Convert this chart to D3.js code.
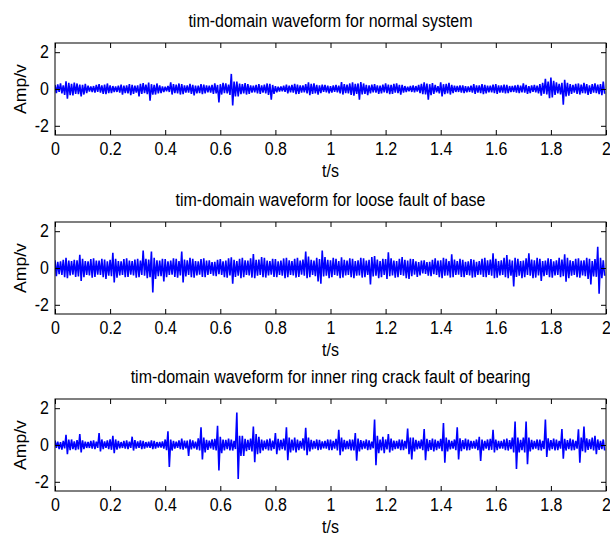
<!DOCTYPE html>
<html><head><meta charset="utf-8">
<script src="https://cdn.jsdelivr.net/npm/d3@7"></script>
<style>body{margin:0;background:#fff} text{font-family:"Liberation Sans",Arial,sans-serif;fill:#000}</style>
</head><body><svg id="c" width="610" height="536"></svg>
<script>
const titles = ["tim-domain waveform for normal system",
  "tim-domain waveform for loose fault of base",
  "tim-domain waveform for inner ring crack fault of bearing"];
const xTicks = [0,0.2,0.4,0.6,0.8,1,1.2,1.4,1.6,1.8,2];
const xTickLabels = ["0","0.2","0.4","0.6","0.8","1","1.2","1.4","1.6","1.8","2"];
const yTicks = [-2,0,2];
const yTickLabels = ["-2","0","2"];
const binStep = 0.01; // seconds per envelope bin (max then min inside each bin)

// normal system: per-bin max / min (V)
const normalMax = [0.22,0.25,0.30,0.20,0.42,0.34,0.28,0.35,0.30,0.24,0.22,0.28,0.18,0.14,0.16,0.22,0.26,0.20,0.24,0.30,
  0.20,0.16,0.14,0.18,0.24,0.18,0.20,0.26,0.22,0.18,0.20,0.28,0.32,0.24,0.35,0.26,0.22,0.30,0.20,0.14,
  0.12,0.16,0.36,0.26,0.24,0.30,0.26,0.20,0.20,0.28,0.22,0.18,0.18,0.26,0.24,0.20,0.18,0.22,0.30,0.22,
  0.26,0.34,0.30,0.24,0.82,0.40,0.40,0.30,0.26,0.32,0.26,0.20,0.18,0.22,0.26,0.20,0.24,0.30,0.28,0.22,
  0.16,0.12,0.14,0.18,0.24,0.18,0.22,0.28,0.24,0.20,0.20,0.26,0.36,0.28,0.30,0.22,0.20,0.24,0.22,0.18,
  0.16,0.20,0.22,0.18,0.38,0.26,0.24,0.30,0.36,0.28,0.30,0.38,0.30,0.22,0.20,0.24,0.26,0.20,0.18,0.24,
  0.30,0.24,0.22,0.28,0.30,0.22,0.22,0.16,0.12,0.16,0.20,0.16,0.22,0.28,0.36,0.30,0.26,0.32,0.22,0.16,
  0.36,0.26,0.28,0.34,0.22,0.18,0.16,0.20,0.20,0.16,0.14,0.18,0.26,0.20,0.20,0.26,0.22,0.18,0.18,0.24,
  0.26,0.20,0.20,0.24,0.22,0.16,0.16,0.20,0.22,0.18,0.30,0.22,0.16,0.20,0.22,0.18,0.26,0.34,0.55,0.40,
  0.62,0.44,0.36,0.28,0.34,0.50,0.34,0.26,0.22,0.28,0.30,0.24,0.34,0.26,0.20,0.26,0.30,0.24,0.26,0.40];
const normalMin = [-0.22,-0.16,-0.24,-0.32,-0.52,-0.34,-0.35,-0.26,-0.28,-0.40,-0.30,-0.22,-0.14,-0.16,-0.20,-0.16,-0.20,-0.26,-0.28,-0.22,
  -0.22,-0.16,-0.16,-0.20,-0.30,-0.22,-0.24,-0.34,-0.26,-0.20,-0.40,-0.26,-0.22,-0.28,-0.64,-0.30,-0.30,-0.24,-0.22,-0.16,
  -0.12,-0.16,-0.30,-0.22,-0.24,-0.30,-0.28,-0.20,-0.20,-0.26,-0.35,-0.24,-0.22,-0.28,-0.24,-0.18,-0.20,-0.26,-0.24,-0.73,
  -0.30,-0.22,-0.24,-0.32,-0.89,-0.40,-0.40,-0.28,-0.24,-0.30,-0.26,-0.20,-0.18,-0.24,-0.26,-0.20,-0.24,-0.32,-0.58,-0.26,
  -0.18,-0.14,-0.12,-0.16,-0.24,-0.18,-0.20,-0.28,-0.26,-0.20,-0.18,-0.24,-0.34,-0.26,-0.24,-0.30,-0.22,-0.16,-0.18,-0.24,
  -0.20,-0.16,-0.18,-0.24,-0.30,-0.22,-0.24,-0.32,-0.36,-0.26,-0.58,-0.30,-0.26,-0.34,-0.24,-0.18,-0.20,-0.26,-0.24,-0.18,
  -0.22,-0.28,-0.26,-0.20,-0.22,-0.30,-0.20,-0.16,-0.12,-0.16,-0.18,-0.14,-0.22,-0.28,-0.30,-0.58,-0.34,-0.26,-0.18,-0.24,
  -0.40,-0.28,-0.24,-0.30,-0.22,-0.16,-0.16,-0.20,-0.22,-0.18,-0.16,-0.20,-0.26,-0.20,-0.22,-0.28,-0.24,-0.18,-0.18,-0.22,
  -0.26,-0.20,-0.20,-0.24,-0.22,-0.16,-0.16,-0.20,-0.22,-0.18,-0.20,-0.26,-0.22,-0.16,-0.18,-0.24,-0.36,-0.26,-0.30,-0.50,
  -0.46,-0.32,-0.24,-0.30,-0.85,-0.40,-0.36,-0.26,-0.20,-0.26,-0.30,-0.22,-0.24,-0.32,-0.26,-0.20,-0.22,-0.28,-0.34,-0.26];

// loose fault of base
const looseMax = [0.42,0.34,0.36,0.45,0.55,0.40,0.38,0.45,0.42,0.72,0.50,0.38,0.36,0.48,0.52,0.40,0.40,0.50,0.46,0.36,
  0.44,0.82,0.50,0.38,0.36,0.48,0.52,0.40,0.38,0.46,0.50,0.40,0.95,0.50,0.46,0.90,0.55,0.42,0.40,0.50,
  0.48,0.36,0.40,0.52,0.50,0.38,0.90,0.46,0.42,0.55,0.50,0.38,0.36,0.48,0.52,0.40,0.42,0.32,0.34,0.45,
  0.48,0.36,0.40,0.52,0.58,0.44,0.38,0.50,0.55,0.42,0.40,0.52,0.76,0.44,0.46,0.60,0.55,0.40,0.38,0.50,
  0.48,0.36,0.40,0.52,0.55,0.42,0.38,0.50,0.55,0.40,0.46,0.90,0.62,0.44,0.40,0.55,0.48,0.95,0.60,0.44,
  0.42,0.55,0.50,0.38,0.58,0.44,0.40,0.52,0.50,0.38,0.42,0.55,0.52,0.40,0.44,0.60,0.65,0.46,0.38,0.50,
  0.48,0.85,0.52,0.40,0.38,0.50,0.60,0.44,0.40,0.50,0.48,0.36,0.32,0.40,0.42,0.32,0.34,0.45,0.52,0.40,
  0.42,0.55,0.50,0.38,0.75,0.46,0.38,0.50,0.45,0.34,0.36,0.48,0.45,0.34,0.38,0.50,0.55,0.42,0.46,0.80,
  0.50,0.38,0.42,0.55,0.70,0.46,0.40,0.55,0.50,0.38,0.40,0.52,0.80,0.46,0.42,0.55,0.50,0.38,0.40,0.52,
  0.48,0.36,0.42,0.55,0.46,0.75,0.55,0.42,0.38,0.50,0.52,0.40,0.42,0.55,0.50,0.38,0.48,1.15,0.55,0.42];
const looseMin = [-0.45,-0.34,-0.38,-0.50,-0.55,-0.40,-0.36,-0.48,-0.46,-0.70,-0.50,-0.38,-0.40,-0.52,-0.48,-0.36,-0.38,-0.50,-0.60,-0.42,
  -0.44,-0.78,-0.52,-0.40,-0.38,-0.50,-0.48,-0.36,-0.40,-0.52,-0.50,-0.38,-0.42,-0.55,-0.50,-1.33,-0.60,-0.44,-0.44,-0.73,
  -0.50,-0.38,-0.36,-0.48,-0.52,-0.40,-0.78,-0.46,-0.38,-0.50,-0.52,-0.40,-0.36,-0.48,-0.50,-0.38,-0.32,-0.42,-0.45,-0.34,
  -0.38,-0.50,-0.52,-0.40,-0.85,-0.48,-0.42,-0.55,-0.50,-0.38,-0.40,-0.52,-0.55,-0.42,-0.38,-0.50,-0.52,-0.40,-0.36,-0.48,
  -0.50,-0.38,-0.42,-0.55,-0.50,-0.38,-0.40,-0.52,-0.48,-0.36,-0.42,-0.55,-0.50,-0.38,-0.44,-0.73,-0.85,-0.46,-0.42,-0.55,
  -0.50,-0.38,-0.42,-0.55,-0.52,-0.40,-0.38,-0.50,-0.55,-0.42,-0.40,-0.52,-0.50,-0.38,-0.90,-0.46,-0.42,-0.55,-0.50,-0.38,
  -0.60,-0.44,-0.40,-0.52,-0.50,-0.38,-0.42,-0.55,-0.60,-0.44,-0.36,-0.48,-0.40,-0.30,-0.32,-0.42,-0.45,-0.34,-0.38,-0.50,
  -0.55,-0.42,-0.40,-0.52,-0.50,-0.38,-0.36,-0.48,-0.50,-0.38,-0.40,-0.52,-0.50,-0.38,-0.36,-0.48,-0.50,-0.38,-0.42,-0.55,
  -0.52,-0.40,-0.38,-0.50,-0.55,-0.42,-1.00,-0.48,-0.42,-0.55,-0.50,-0.38,-0.42,-0.55,-0.52,-0.40,-0.70,-0.44,-0.38,-0.50,
  -0.52,-0.40,-0.38,-0.50,-0.44,-0.75,-0.55,-0.42,-0.38,-0.50,-0.52,-0.40,-0.44,-0.60,-0.90,-0.46,-0.48,-1.40,-0.55,-0.42];

// inner ring crack fault of bearing
const innerMax = [0.25,0.18,0.16,0.22,0.55,0.30,0.30,0.20,0.26,0.60,0.25,0.18,0.16,0.22,0.25,0.18,0.65,0.30,0.20,0.25,
  0.30,0.50,0.30,0.22,0.16,0.22,0.25,0.18,0.45,0.26,0.20,0.25,0.22,0.16,0.18,0.25,0.22,0.16,0.16,0.20,
  0.30,0.74,0.30,0.22,0.18,0.25,0.35,0.24,0.24,0.30,0.25,0.18,0.36,0.96,0.40,0.28,0.24,0.30,0.34,1.05,
  0.45,0.30,0.28,0.35,0.30,0.22,1.76,0.50,0.50,0.34,0.28,0.35,1.00,0.60,0.45,0.30,0.24,0.30,0.35,0.24,
  0.65,0.34,0.28,0.35,0.96,0.40,0.30,0.40,0.30,0.22,0.36,0.93,0.40,0.28,0.22,0.30,0.28,0.20,0.22,0.30,
  0.30,0.22,0.34,0.83,0.40,0.28,0.22,0.30,0.30,0.65,0.35,0.26,0.22,0.30,0.25,0.18,1.39,0.50,0.30,0.45,
  0.30,0.60,0.35,0.24,0.22,0.30,0.30,0.22,0.90,0.40,0.40,0.28,0.22,0.30,0.87,0.34,0.26,0.35,0.30,0.22,
  0.34,1.20,0.40,0.28,0.22,0.30,0.96,0.36,0.26,0.35,0.30,0.22,0.22,0.30,0.45,0.30,0.22,0.30,0.34,0.83,
  0.30,0.22,0.22,0.30,0.35,0.26,0.40,1.28,0.40,0.28,0.40,1.28,0.40,0.28,0.22,0.30,0.30,0.22,1.39,0.36,
  0.26,0.35,0.30,0.22,0.87,0.34,0.26,0.35,0.30,0.22,0.85,0.40,1.00,0.36,0.30,0.40,0.50,0.30,0.22,0.30];
const innerMin = [-0.16,-0.22,-0.25,-0.18,-0.50,-0.28,-0.22,-0.28,-0.24,-0.40,-0.22,-0.16,-0.16,-0.20,-0.22,-0.16,-0.35,-0.22,-0.16,-0.22,
  -0.26,-0.45,-0.25,-0.18,-0.16,-0.20,-0.22,-0.16,-0.30,-0.20,-0.16,-0.22,-0.20,-0.14,-0.16,-0.22,-0.20,-0.14,-0.14,-0.20,
  -0.28,-1.20,-0.30,-0.20,-0.16,-0.22,-0.25,-0.18,-0.60,-0.24,-0.18,-0.25,-0.30,-0.78,-0.40,-0.26,-0.18,-0.25,-0.30,-1.39,
  -0.45,-0.30,-0.22,-0.30,-0.30,-0.22,-1.85,-0.60,-0.60,-0.34,-0.26,-0.35,-0.93,-0.50,-0.45,-0.30,-0.22,-0.30,-0.30,-0.22,
  -0.50,-0.30,-0.22,-0.30,-0.83,-0.40,-0.30,-0.40,-0.28,-0.20,-0.30,-0.55,-0.35,-0.24,-0.20,-0.28,-0.25,-0.18,-0.20,-0.28,
  -0.28,-0.20,-0.30,-0.55,-0.35,-0.24,-0.22,-0.30,-0.30,-0.85,-0.35,-0.24,-0.20,-0.28,-0.25,-0.18,-1.10,-0.45,-0.30,-0.45,
  -0.24,-0.40,-0.30,-0.22,-0.20,-0.28,-0.28,-0.20,-0.50,-0.78,-0.35,-0.24,-0.20,-0.28,-0.83,-0.34,-0.26,-0.35,-0.28,-0.20,
  -0.34,-0.96,-0.35,-0.24,-0.20,-0.28,-0.78,-0.34,-0.22,-0.30,-0.28,-0.20,-0.20,-0.28,-0.87,-0.30,-0.20,-0.28,-0.26,-0.40,
  -0.28,-0.20,-0.20,-0.28,-0.30,-0.22,-0.40,-1.30,-0.40,-0.28,-0.40,-1.04,-0.35,-0.24,-0.20,-0.28,-0.30,-0.22,-0.65,-0.30,
  -0.22,-0.30,-0.28,-0.20,-0.75,-0.30,-0.22,-0.30,-0.28,-0.20,-0.96,-0.34,-0.40,-0.26,-0.22,-0.30,-0.50,-0.26,-0.22,-0.30];

const series = [[normalMax, normalMin],[looseMax, looseMin],[innerMax, innerMin]];
const panelTops = [43, 222, 399];
const plotH = 92, left = 55, right = 606;
const stretch = 1.1; // glyphs in the reference are slightly taller than wide

const svg = d3.select("#c");
const x = d3.scaleLinear().domain([0,2]).range([left,right]);

series.forEach(([mx, mn], k) => {
  const top = panelTops[k];
  const y = d3.scaleLinear().domain([-2.5,2.5]).range([top+plotH, top]);
  const g = svg.append("g");
  const pts = [];
  mx.forEach((v,i) => { pts.push([i*binStep, v]); pts.push([i*binStep + binStep/2, mn[i]]); });
  g.append("clipPath").attr("id","clip"+k).append("rect")
    .attr("x",left).attr("y",top).attr("width",right-left).attr("height",plotH);
  g.append("path").datum(pts).attr("clip-path","url(#clip"+k+")")
    .attr("fill","none").attr("stroke","#0000ff").attr("stroke-width",1.6)
    .attr("stroke-linejoin","miter").attr("stroke-miterlimit",2)
    .attr("d", d3.line().x(d=>x(d[0])).y(d=>y(d[1])));

  const fmtX = d => xTickLabels[xTicks.indexOf(d)];
  const fmtY = d => yTickLabels[yTicks.indexOf(d)];
  const styleAxis = sel => { sel.select(".domain").remove(); sel.selectAll("line").attr("stroke","#000");
    sel.selectAll("text").style("font-size","16px").style("font-family",'"Liberation Sans",Arial,sans-serif')
      .each(function(){ const t = d3.select(this); const yy = +t.attr("y") || 0; const xx = +t.attr("x") || 0;
        t.attr("x",0).attr("y",0).attr("transform",`translate(${xx},${yy}) scale(1,${stretch})`); }); };
  g.append("g").attr("transform",`translate(0,${top+plotH})`)
    .call(d3.axisBottom(x).tickValues(xTicks).tickSize(-5).tickPadding(7).tickFormat(fmtX)).call(styleAxis);
  g.append("g").attr("transform",`translate(0,${top})`)
    .call(d3.axisTop(x).tickValues(xTicks).tickSize(-5).tickFormat("")).call(styleAxis);
  g.append("g").attr("transform",`translate(${left},0)`)
    .call(d3.axisLeft(y).tickValues(yTicks).tickSize(-5).tickPadding(6).tickFormat(fmtY)).call(styleAxis);
  g.append("g").attr("transform",`translate(${right},0)`)
    .call(d3.axisRight(y).tickValues(yTicks).tickSize(-5).tickFormat("")).call(styleAxis);
  g.append("rect").attr("x",left).attr("y",top).attr("width",right-left).attr("height",plotH)
    .attr("fill","none").attr("stroke","#000").attr("stroke-width",1);

  g.append("text").attr("transform",`translate(${(left+right)/2},${top-16}) scale(1,${stretch})`)
    .attr("text-anchor","middle").style("font-size","16px").text(titles[k]);
  g.append("text").attr("transform",`translate(${(left+right)/2},${top+plotH+42}) scale(1,${stretch})`)
    .attr("text-anchor","middle").style("font-size","16px").text("t/s");
  g.append("text").attr("transform",`translate(20,${top+plotH/2}) scale(1,${stretch}) rotate(-90)`).attr("dy","0.35em")
    .attr("text-anchor","middle").style("font-size","16px").text("Amp/v");
});
</script></body></html>
